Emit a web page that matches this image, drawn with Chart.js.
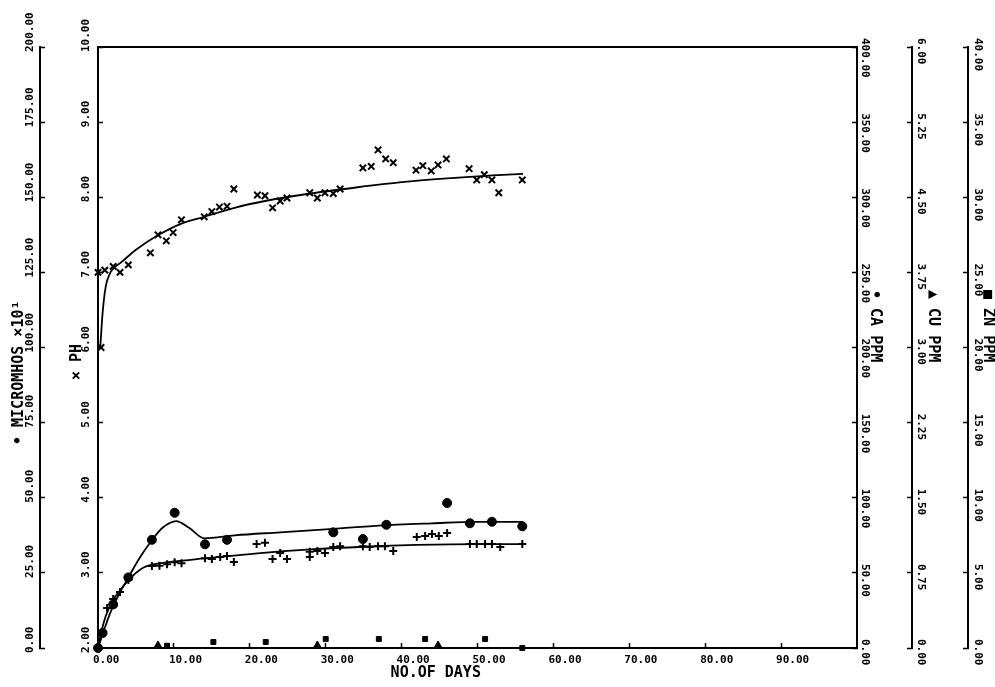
<!DOCTYPE html>
<html>
<head>
<meta charset="utf-8">
<script src="https://cdn.jsdelivr.net/npm/chart.js@4"></script>
<style>
  html, body { margin: 0; padding: 0; background: #fff; }
  #wrap { width: 995px; height: 687px; }
</style>
</head>
<body>
<div id="wrap"><canvas id="chart" width="995" height="687"></canvas></div>
<script>
// ==================== DATA ====================
// pH readings (x marks)
const phDays = [0, 0.4, 0.9, 2, 2.9, 4, 6.9, 7.9, 9, 9.9, 11, 14, 15, 16, 17, 17.9, 21, 22, 23, 24, 24.9, 27.9, 28.9, 29.9, 31, 31.9, 34.9, 36, 36.9, 37.9, 38.9, 41.9, 42.8, 43.9, 44.8, 45.9, 48.9, 49.9, 50.9, 51.9, 52.8, 55.9];
const phValues = [7.0, 6.0, 7.03, 7.08, 7.0, 7.1, 7.26, 7.5, 7.42, 7.53, 7.7, 7.74, 7.81, 7.87, 7.88, 8.11, 8.03, 8.02, 7.86, 7.95, 7.99, 8.06, 7.99, 8.06, 8.05, 8.11, 8.39, 8.41, 8.63, 8.51, 8.46, 8.36, 8.42, 8.35, 8.43, 8.51, 8.38, 8.23, 8.3, 8.23, 8.06, 8.23];
const phFitDays = [0.3, 0.6, 1.0, 1.5, 2.2, 3, 5, 8, 11, 14, 18, 22, 28, 34, 40, 46, 52, 56];
const phFit = [6.0, 6.45, 6.8, 6.97, 7.07, 7.13, 7.3, 7.5, 7.65, 7.74, 7.86, 7.95, 8.05, 8.13, 8.2, 8.25, 8.29, 8.31];

// conductivity, micromhos x10 (+ marks)
const micDays = [0, 1.2, 2, 2.9, 4, 7.1, 8.1, 9.1, 10.1, 11, 14.1, 15, 16.1, 17, 17.9, 20.9, 22, 23, 24, 24.9, 27.9, 27.9, 28.9, 29.9, 31, 31.9, 34.9, 35.8, 36.9, 37.8, 38.9, 42, 43.1, 44, 44.9, 46, 49, 49.9, 51, 51.9, 53, 55.9];
const micValues = [0, 13.3, 16.3, 18.6, 22.6, 27.3, 27.4, 27.9, 28.5, 28.2, 29.9, 29.6, 30.3, 30.6, 28.6, 34.6, 35, 29.6, 31.6, 29.6, 32, 30.3, 32.3, 31.6, 33.6, 33.9, 33.9, 33.6, 33.9, 33.9, 32.3, 36.9, 37.3, 37.9, 37.3, 38.3, 34.6, 34.6, 34.6, 34.6, 33.6, 34.6];
const micFitDays = [0, 0.5, 1, 2, 3, 4, 5, 6, 7, 8.5, 10, 14, 21, 28, 35, 42, 50, 56];
const micFit = [0, 6, 10.5, 16, 19.5, 22.5, 25, 26.8, 27.7, 28.3, 28.8, 29.8, 31.5, 32.8, 33.7, 34.3, 34.6, 34.6];

// calcium ppm (dots)
const caDays = [0, 0.6, 2, 4, 7.1, 10.1, 14.1, 17, 31, 34.9, 38, 46, 49, 51.9, 55.9];
const caValues = [0, 10, 29, 47, 72, 90, 69, 72, 77, 72.5, 82, 96.5, 83, 84, 81];
const caFitDays = [0, 1, 2, 3, 4, 5.5, 7, 8.5, 10.3, 12, 14, 18, 24, 30, 37, 44, 50, 56];
const caFit = [0, 15, 28, 38, 47, 60, 71, 80, 84.5, 80, 73, 75, 77, 79, 81.5, 83, 84, 84];

// copper ppm (triangles) and zinc ppm (squares)
const cuDays = [0, 7.9, 28.9, 44.8];
const cuValues = [0, 0.03, 0.03, 0.03];
const znDays = [0, 9.1, 15.2, 22.1, 30, 37, 43.1, 51, 55.9];
const znValues = [0, 0.15, 0.4, 0.4, 0.6, 0.6, 0.6, 0.6, 0];

// axis ranges / tick steps
const dayTicks = { min: 0, max: 100, step: 10 };
const phTicks = { min: 2, max: 10, step: 1 };
const micTicks = { min: 0, max: 200, step: 25 };
const caTicks = { min: 0, max: 400, step: 50 };
const cuTicks = { min: 0, max: 6, step: 0.75 };
const znTicks = { min: 0, max: 40, step: 5 };

// ==================== HELPERS ====================
const toXY = (xs, ys) => xs.map((x, i) => ({ x, y: ys[i] }));
const fmt = (v) => Number(v).toFixed(2);
const tickFont = { family: 'DejaVu Sans Mono', weight: 'bold', size: 11 };
const gridOpts = { drawOnChartArea: false, tickLength: -5, tickWidth: 1.5, tickColor: '#000' };
const borderOpts = { color: '#000', width: 2 };

function leftAxis(t, weight, width, pad) {
  return {
    type: 'linear', position: 'left', weight, min: t.min, max: t.max,
    afterFit: (s) => { s.width = width; },
    ticks: {
      stepSize: t.step, mirror: true, padding: pad, minRotation: 90, maxRotation: 90,
      labelOffset: 5, color: '#000', font: tickFont, callback: fmt,
    },
    grid: gridOpts, border: borderOpts,
  };
}

function rightAxis(t, weight, width, pad) {
  return {
    type: 'linear', position: 'right', weight, min: t.min, max: t.max,
    afterFit: (s) => { s.width = width; },
    ticks: {
      stepSize: t.step, crossAlign: 'near', padding: pad, minRotation: -90, maxRotation: -90,
      labelOffset: -9, color: '#000', font: tickFont, callback: fmt,
    },
    grid: gridOpts, border: borderOpts,
  };
}

function marks(data, axis, style, radius, filled) {
  return {
    data, yAxisID: axis, showLine: false, clip: false,
    pointStyle: style, pointRadius: radius, pointHoverRadius: radius,
    pointBorderColor: '#000', pointBackgroundColor: filled ? '#000' : 'transparent',
    pointBorderWidth: filled ? 1 : 2,
  };
}

function curve(data, axis) {
  return {
    data, yAxisID: axis, showLine: true, pointRadius: 0, clip: false,
    borderColor: '#000', borderWidth: 1.8, cubicInterpolationMode: 'monotone', fill: false,
  };
}

// axis titles drawn rotated like the plotter output
const axisTitles = {
  id: 'axisTitles',
  afterDraw(chart) {
    const { ctx, scales } = chart;
    const write = (text, x, y, angle) => {
      ctx.save();
      ctx.translate(x, y);
      ctx.rotate(angle);
      ctx.fillText(text, 0, 0);
      ctx.restore();
    };
    ctx.save();
    ctx.fillStyle = '#000';
    ctx.font = 'bold 15px "DejaVu Sans Mono"';
    ctx.textBaseline = 'middle';
    ctx.textAlign = 'left';
    write('• MICROMHOS ×10¹', scales.mic.left + 19, 445, -Math.PI / 2);
    write('× PH', scales.ph.left + 37, 380, -Math.PI / 2);
    write('• CA PPM', scales.ca.left + 18, 290, Math.PI / 2);
    write('▲ CU PPM', scales.cu.left + 21, 290, Math.PI / 2);
    write('■ ZN PPM', scales.zn.left + 20, 290, Math.PI / 2);
    ctx.textAlign = 'center';
    ctx.fillText('NO.OF DAYS', scales.x.getPixelForValue(44.5), scales.x.top + 25);
    ctx.restore();
  },
};

// ==================== CHART ====================
new Chart(document.getElementById('chart').getContext('2d'), {
  type: 'scatter',
  data: {
    datasets: [
      curve(toXY(phFitDays, phFit), 'ph'),
      curve(toXY(micFitDays, micFit), 'mic'),
      curve(toXY(caFitDays, caFit), 'ca'),
      marks(toXY(phDays, phValues), 'ph', 'crossRot', 4.5, false),
      marks(toXY(micDays, micValues), 'mic', 'cross', 4, false),
      marks(toXY(caDays, caValues), 'ca', 'circle', 4.5, true),
      marks(toXY(cuDays, cuValues), 'cu', 'triangle', 4, true),
      marks(toXY(znDays, znValues), 'zn', 'rect', 3.5, true),
    ],
  },
  options: {
    responsive: false,
    animation: false,
    layout: { padding: { top: 47, left: 0, right: 0, bottom: 0 } },
    plugins: { legend: { display: false }, tooltip: { enabled: false } },
    scales: {
      x: {
        type: 'linear', position: 'bottom', min: dayTicks.min, max: dayTicks.max,
        afterBuildTicks: (s) => { s.ticks = s.ticks.filter((t) => t.value < dayTicks.max); },
        afterFit: (s) => { s.height = 39; },
        ticks: {
          stepSize: dayTicks.step, align: 'start', labelOffset: -5, padding: 11,
          maxRotation: 0, autoSkip: false, color: '#000', font: tickFont, callback: fmt,
        },
        grid: gridOpts, border: borderOpts,
      },
      xTop: {
        type: 'linear', position: 'top', min: dayTicks.min, max: dayTicks.max,
        afterFit: (s) => { s.height = 0; },
        ticks: { display: false },
        grid: { drawOnChartArea: false, drawTicks: false }, border: borderOpts,
      },
      ph: leftAxis(phTicks, 0, 58, -12),
      mic: leftAxis(micTicks, 1, 40, -10),
      ca: rightAxis(caTicks, 0, 55, 13),
      cu: rightAxis(cuTicks, 1, 56, 14),
      zn: rightAxis(znTicks, 2, 27, 15),
    },
  },
  plugins: [axisTitles],
});
</script>
</body>
</html>
